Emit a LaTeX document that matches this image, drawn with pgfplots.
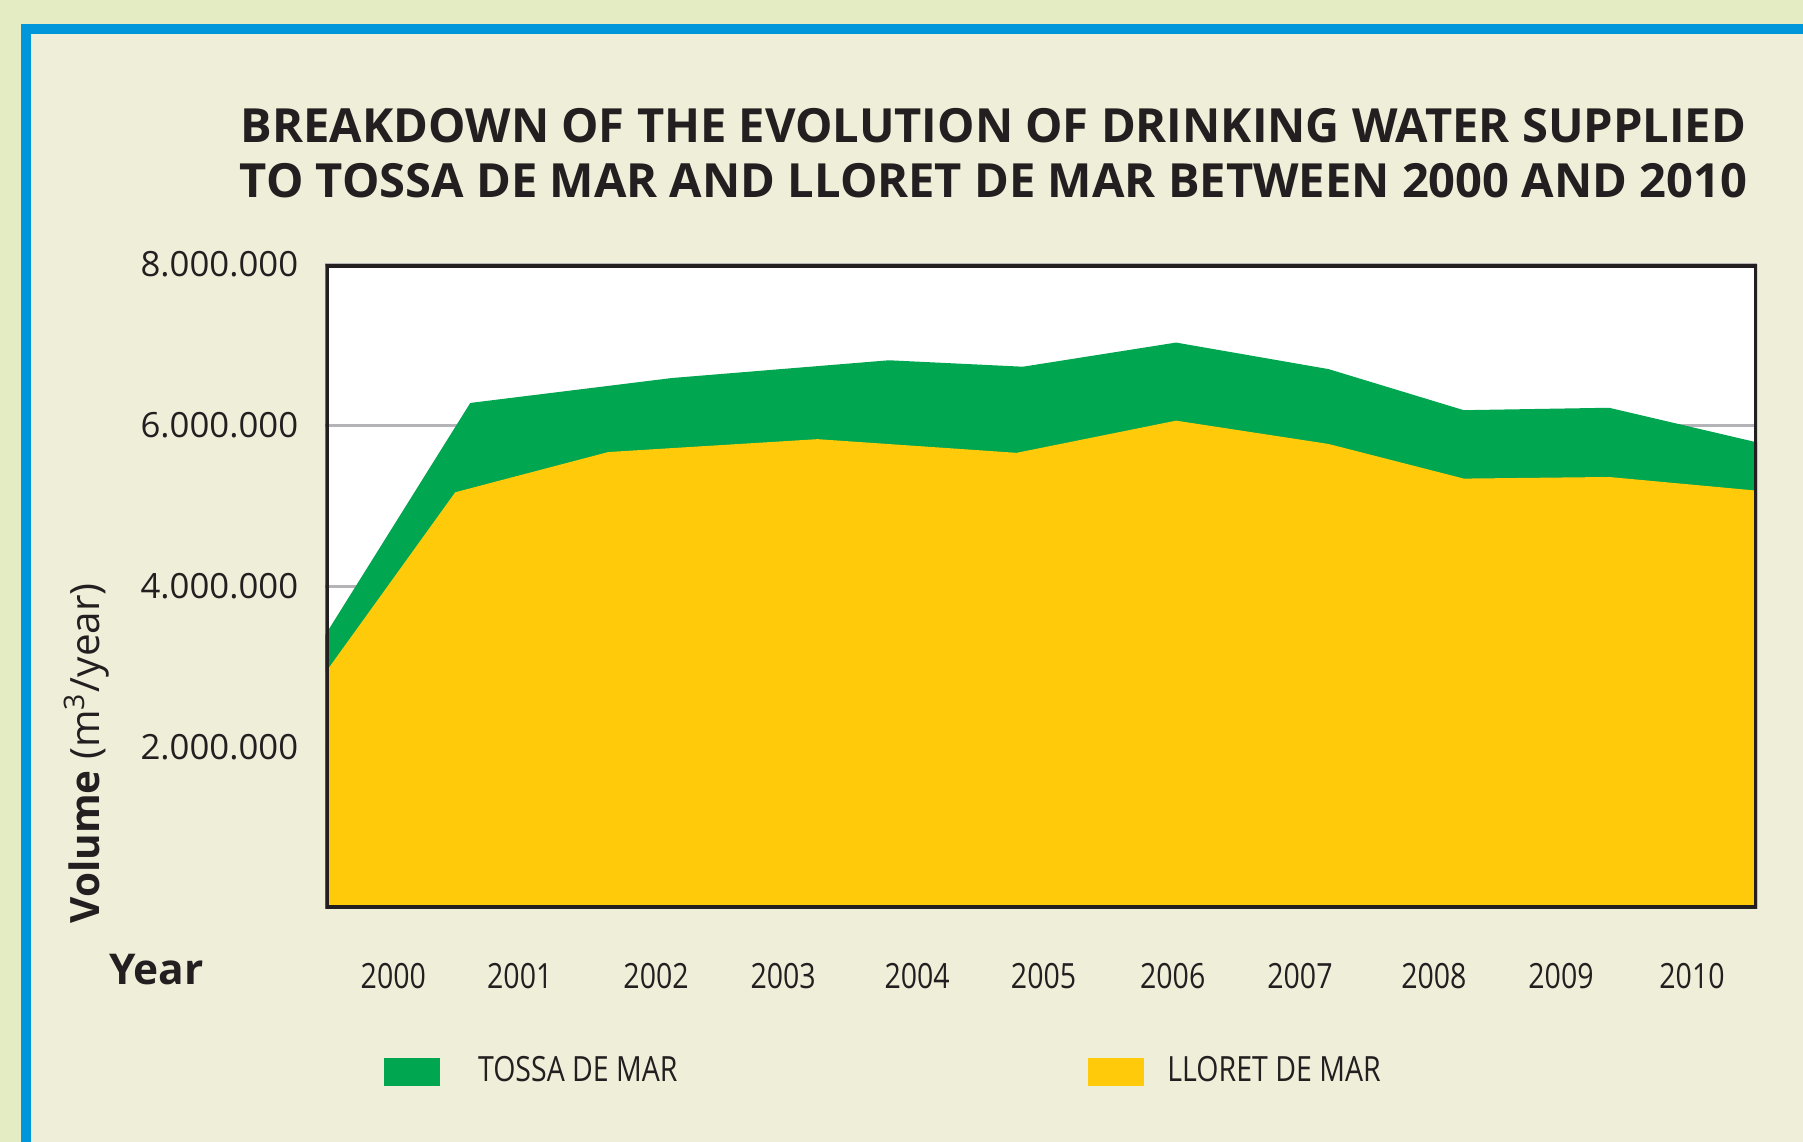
\documentclass[border=0pt]{standalone}
\usepackage{fontspec}
\setmainfont{Open Sans}
\newfontfamily\condfont[FakeStretch=0.82]{Open Sans}
\usepackage{pgfplots}
\pgfplotsset{compat=1.18}

\definecolor{outerbg}{HTML}{E4ECC4}
\definecolor{frameblue}{HTML}{0096DA}
\definecolor{innerbg}{HTML}{EFEED9}
\definecolor{ink}{HTML}{231F20}
\definecolor{tossagreen}{HTML}{00A650}
\definecolor{lloretyellow}{HTML}{FECA0A}
\definecolor{gridgray}{HTML}{B4B4B8}

\newcommand{\tickfont}{\fontsize{8.6}{10}\selectfont}

\begin{document}
\begin{tikzpicture}[x=1cm,y=1cm]
% page: 15.68 x 9.93 cm
\useasboundingbox (0,0) rectangle (15.68,9.93);
\clip (0,0) rectangle (15.68,9.93);
\fill[outerbg] (0,0) rectangle (15.68,9.93);
\fill[frameblue] (0.183,-1) rectangle (16,9.72);
\fill[innerbg] (0.27,-1) rectangle (16,9.634);

\node[font=\fontsize{11.65}{13.6}\selectfont\bfseries, text=ink, align=center]
  at (8.64,8.595) {BREAKDOWN OF THE EVOLUTION OF DRINKING WATER SUPPLIED\\TO TOSSA DE MAR AND LLORET DE MAR BETWEEN 2000 AND 2010};

\begin{axis}[
    at={(2.83cm,2.03cm)}, anchor=south west,
    scale only axis, width=12.45cm, height=5.6cm,
    xmin=1999.477, xmax=2010.505,
    ymin=0, ymax=8000000,
    axis background/.style={fill=white},
    axis line style={draw=none},
    major tick length=0pt,
    ymajorgrids, grid style={gridgray, line width=0.8pt},
    ytick={2000000,4000000,6000000,8000000},
    yticklabels={2.000.000,4.000.000,6.000.000,8.000.000},
    yticklabel style={font=\tickfont, text=ink, anchor=east, inner sep=0pt, xshift=-0.23cm},
    xtick={2000.00,2000.974,2002.024,2003.003,2004.035,2005.009,2006.004,2006.984,2008.016,2008.995,2010.004},
    xticklabels={2000,2001,2002,2003,2004,2005,2006,2007,2008,2009,2010},
    xticklabel style={font=\condfont\tickfont, text=ink, anchor=north, inner sep=0pt, yshift=-0.47cm},
    scaled y ticks=false,
    xlabel={Year},
    xlabel style={at={(rel axis cs:-0.118,-0.0946)}, anchor=center, font=\fontsize{10.5}{12}\selectfont\bfseries, text=ink},
    ylabel={\textbf{Volume} (m\textsuperscript{3}/year)},
    ylabel style={at={(rel axis cs:-0.167,0.241)}, anchor=center, font=\fontsize{10}{12}\selectfont, text=ink},
    legend columns=2,
    legend style={at={(rel axis cs:0.0402,-0.254)}, anchor=west, draw=none, fill=none,
      inner sep=0pt, font=\condfont\tickfont, text=ink,
      nodes={inner sep=0pt},
      /tikz/column 1/.style={column sep=0.33cm},
      /tikz/column 2/.style={column sep=3.57cm},
      /tikz/column 3/.style={column sep=0.20cm}},
    legend image code/.code={\fill[#1] (0cm,-0.125cm) rectangle (0.49cm,0.125cm);},
]
% total (Tossa + Lloret)
\addplot[fill=tossagreen, draw=none] coordinates {
  (1999.477,3400000) (2000.593,6280000) (2002.149,6590000) (2003.818,6810000)
  (2004.850,6730000) (2006.030,7030000) (2007.205,6700000) (2008.246,6190000)
  (2009.365,6220000) (2010.505,5790000)} \closedcycle;
\addlegendentry{TOSSA DE MAR}
% Lloret de Mar
\addplot[fill=lloretyellow, draw=none] coordinates {
  (1999.477,2930000) (2000.477,5170000) (2001.656,5670000) (2003.267,5830000)
  (2004.801,5660000) (2006.030,6060000) (2007.205,5770000) (2008.246,5340000)
  (2009.365,5360000) (2010.505,5190000)} \closedcycle;
\addlegendentry{LLORET DE MAR}
\draw[ink, line width=1.7pt] (rel axis cs:0,0) rectangle (rel axis cs:1,1);
\end{axis}
\end{tikzpicture}
\end{document}
